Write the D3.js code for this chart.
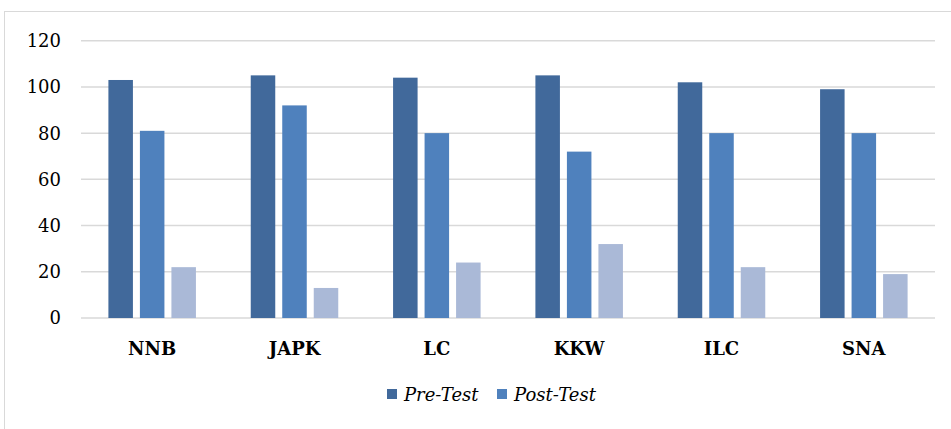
<!DOCTYPE html>
<html><head><meta charset="utf-8">
<script src="https://cdnjs.cloudflare.com/ajax/libs/d3/7.8.5/d3.min.js"></script>
<style>body{margin:0;background:#fff;overflow:hidden}</style>
</head><body><div id="chart"></div>
<script>
const categories = ["NNB","JAPK","LC","KKW","ILC","SNA"];
const preTest = [103,105,104,105,102,99];
const postTest = [81,92,80,72,80,80];
const third = [22,13,24,32,22,19];
const yTicks = [0,20,40,60,80,100,120];
const seriesNames = ["Pre-Test","Post-Test",""];
const colors = ["#41699B","#4F81BD","#AAB9D7"];

(function(){
const W=951,H=429;
const svg=d3.select("#chart").append("svg").attr("width",W).attr("height",H).style("display","block");
svg.append("rect").attr("x",4.5).attr("y",11.5).attr("width",W).attr("height",H).attr("fill","none").attr("stroke","#D9D9D9");
const pLeft=81,pRight=935,pTop=40.7,pBottom=318;
const x=d3.scaleBand().domain(categories).range([pLeft,pRight]);
const y=d3.scaleLinear().domain([0,120]).range([pBottom,pTop]);
const font="'DejaVu Serif', serif";
svg.append("g").selectAll("line").data(yTicks).join("line")
  .attr("x1",pLeft).attr("x2",pRight).attr("y1",d=>y(d)).attr("y2",d=>y(d))
  .attr("stroke","#D9D9D9").attr("stroke-width",1.5);
svg.append("g").selectAll("text").data(yTicks).join("text")
  .attr("x",61).attr("y",d=>y(d)).attr("dy","0.36em").attr("text-anchor","end")
  .attr("font-family",font).attr("font-size",18).attr("fill","#000").text(d=>d);
const series=[preTest,postTest,third];
const inner=d3.scaleBand().domain([0,1,2]).range([0,x.bandwidth()]).paddingInner(0.222).paddingOuter(0.87);
series.forEach((s,i)=>{
  svg.append("g").selectAll("rect").data(s).join("rect")
    .attr("x",(d,j)=>x(categories[j])+inner(i)).attr("width",inner.bandwidth())
    .attr("y",d=>y(d)).attr("height",d=>y(0)-y(d)).attr("fill",colors[i]);
});
svg.append("g").selectAll("text").data(categories).join("text")
  .attr("x",d=>x(d)+x.bandwidth()/2).attr("y",355).attr("text-anchor","middle")
  .attr("font-family",font).attr("font-weight","bold").attr("font-size",18).text(d=>d);
const leg=[{n:seriesNames[0],c:colors[0],x:387},{n:seriesNames[1],c:colors[1],x:497}];
leg.forEach(l=>{
  svg.append("rect").attr("x",l.x).attr("y",389).attr("width",10).attr("height",10).attr("fill",l.c);
  svg.append("text").attr("x",l.x+17).attr("y",401).attr("font-family",font).attr("font-style","italic")
    .attr("font-size",18).text(l.n);
});
})();
</script></body></html>
